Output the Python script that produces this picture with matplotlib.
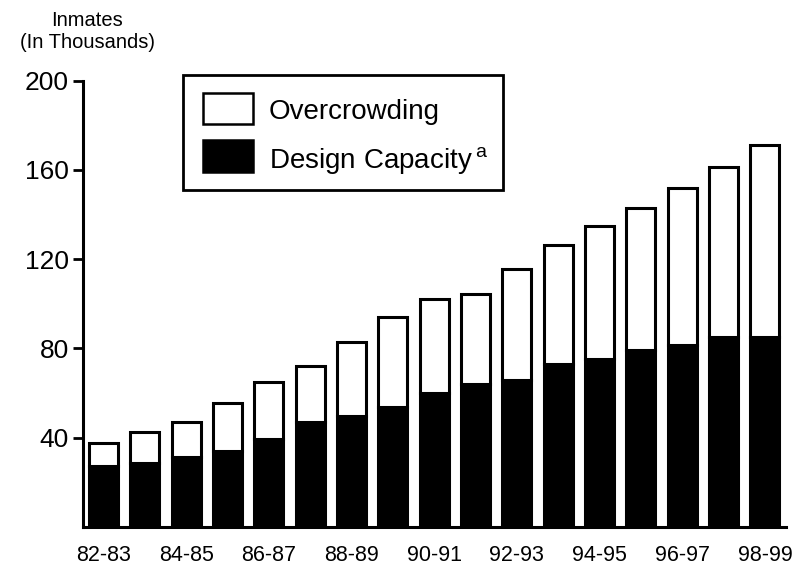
import numpy as np
import matplotlib
matplotlib.use('Agg')
import matplotlib.pyplot as plt
from matplotlib.patches import Rectangle

plt.rcParams['font.family'] = ['Liberation Sans', 'DejaVu Sans']

# fiscal years, values in thousands of inmates
years = ['82-83', '83-84', '84-85', '85-86', '86-87', '87-88', '88-89', '89-90', '90-91',
         '91-92', '92-93', '93-94', '94-95', '95-96', '96-97', '97-98', '98-99']
design = [27.5, 28.5, 31.3, 34.2, 39.4, 47.2, 49.8, 53.9, 59.9,
          63.9, 65.8, 72.9, 75.1, 79.3, 81.5, 85.0, 85.0]
total = [37.5, 42.4, 47.2, 55.4, 64.9, 72.1, 82.8, 94.2, 102.0,
         104.3, 115.7, 126.3, 134.9, 142.7, 151.7, 161.1, 171.1]
overcrowding = [t - d for t, d in zip(total, design)]

W, H = 793, 566


def fx(px):
    return px / W


def fy(py):
    return 1 - py / H


fig = plt.figure(figsize=(W / 100, H / 100), dpi=100)
ax = fig.add_axes([fx(83), fy(527), (786 - 83) / W, 446.5 / H])

x = np.arange(len(years))
w = 0.70
ax.bar(x, design, w, color='black', edgecolor='black', linewidth=2.2, zorder=3)
ax.bar(x, overcrowding, w, bottom=design, color='white', edgecolor='black', linewidth=2.2, zorder=3)

ax.set_ylim(0, 200)
ax.set_xlim(-0.496, 16.51)
ax.set_yticks([40, 80, 120, 160, 200])
ax.set_xticks(x[::2])
ax.set_xticklabels(years[::2], fontsize=15.5)
ax.tick_params(axis='x', length=0, pad=13)
ax.tick_params(axis='y', length=7, width=2, labelsize=19, pad=3)
for s in ['top', 'right']:
    ax.spines[s].set_visible(False)
for s in ['left', 'bottom']:
    ax.spines[s].set_linewidth(2.2)

fig.text(fx(87), fy(20), 'Inmates', ha='center', va='center', fontsize=14.5)
fig.text(fx(87), fy(43), '(In Thousands)', ha='center', va='center', fontsize=14.5)

# legend box drawn by hand to match the original's size
tf = fig.transFigure
fig.patches.append(Rectangle((fx(183), fy(190)), (503 - 183) / W, 115 / H, transform=tf,
                             facecolor='white', edgecolor='black', linewidth=2, zorder=5))
fig.patches.append(Rectangle((fx(203), fy(124)), 50 / W, 31 / H, transform=tf,
                             facecolor='white', edgecolor='black', linewidth=1.8, zorder=6))
fig.patches.append(Rectangle((fx(203), fy(172)), 50 / W, 32 / H, transform=tf,
                             facecolor='black', edgecolor='black', linewidth=1.8, zorder=6))
fig.text(fx(269), fy(109), 'Overcrowding', ha='left', va='center_baseline', fontsize=20, zorder=7)
fig.text(fx(269), fy(157), 'Design Capacity$\\,^\\mathregular{a}$', ha='left', va='center_baseline',
         fontsize=20, zorder=7)

fig.savefig('out.png', dpi=100)
